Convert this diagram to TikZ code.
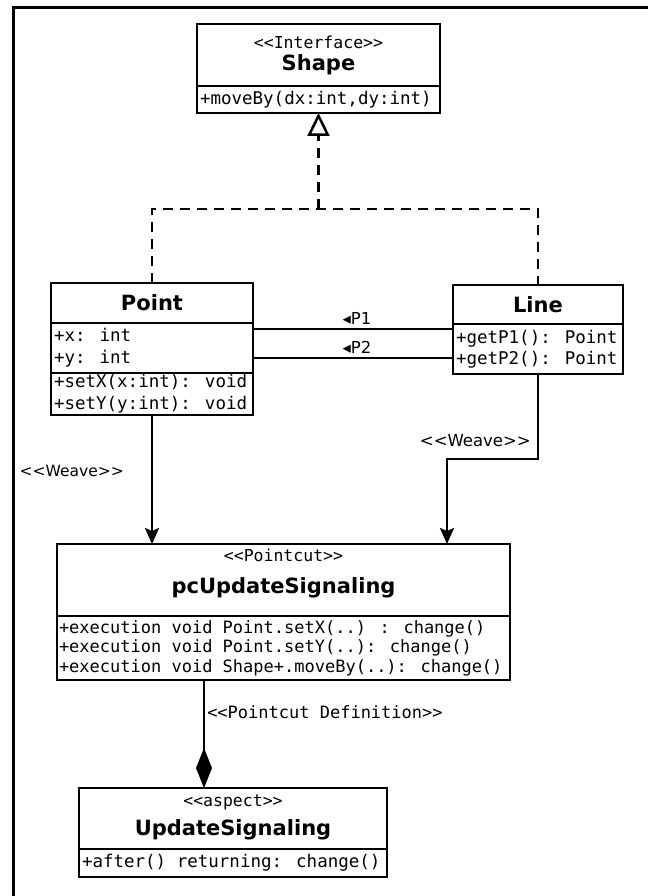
\documentclass[tikz,border=0pt]{standalone}
\usepackage{fontspec}
\newfontfamily\umlsans{DejaVu Sans}
\newfontfamily\umlmono{DejaVu Sans Mono}[WordSpace={1,0,0}]
\usetikzlibrary{arrows.meta}

\begin{document}
\begin{tikzpicture}[
	x=1pt, y=-1pt,
	frame/.style={line width=3pt},
	classbox/.style={rectangle,draw=black,line width=2.8pt,anchor=north west,inner sep=0pt,outer sep=0pt},
	namebox/.style={classbox,font=\umlsans\fontsize{21}{25}\selectfont\bfseries},
	members/.style={classbox,inner xsep=3pt,align=left,font=\umlmono\fontsize{17.5}{21}\selectfont,
		execute at begin node={\spaceskip=0pt\xspaceskip=0pt\relax}},
	cname/.style={font=\umlsans\fontsize{21}{25}\selectfont\bfseries,inner sep=0pt},
	stereo/.style={font=\umlmono\fontsize{16.5}{19}\selectfont,inner sep=0pt},
	lbl/.style={font=\umlsans\fontsize{16.5}{19}\selectfont,inner sep=0pt},
	lblmono/.style={font=\umlmono\fontsize{17}{20}\selectfont,inner sep=0pt},
	assoc/.style={line width=2.5pt},
	weave/.style={-{Stealth[length=16pt,width=14pt,inset=3pt]},line width=2.5pt},
	realize/.style={line width=2.5pt,dash pattern=on 10pt off 7pt}
	]
	\useasboundingbox (0,0) rectangle (648,896);
	\draw[frame] (13,896) -- (13,8) -- (648,8);

	\node[classbox, minimum width=243pt, minimum height=62pt] (shhead) at (197,24) {};
	\node[stereo] (shst) at ([yshift=-18pt]shhead.north) {<<Interface>>};
	\node[cname] (shname) at ([yshift=-41pt]shhead.north) {Shape};
	\node[members, text width=237pt, minimum height=27pt] (shops) at (shhead.south west) {+moveBy(dx:int,dy:int)};

	\node[namebox, minimum width=202pt, minimum height=40pt] (pthead) at (51,283) {Point};
	\node[members, text width=196pt, minimum height=50pt] (ptattrs) at (pthead.south west) {+x: int\\[1pt]+y: int};
	\node[members, text width=196pt, minimum height=42pt] (ptops) at (ptattrs.south west) {+setX(x:int): void\\[1pt]+setY(y:int): void};

	\node[namebox, minimum width=170pt, minimum height=39pt] (lnhead) at (453,285) {Line};
	\node[members, text width=164pt, minimum height=50pt] (lnops) at (lnhead.south west) {+getP1(): Point\\+getP2(): Point};

	\node[classbox, minimum width=453pt, minimum height=72pt] (pchead) at (57,544) {};
	\node[stereo] (pcst) at ([yshift=-11pt]pchead.north) {<<Pointcut>>};
	\node[cname] (pcname) at ([yshift=-44pt]pchead.north) {pcUpdateSignaling};
	\node[members, text width=449pt, inner xsep=2pt, minimum height=64pt, font=\umlmono\fontsize{17}{19.5}\selectfont] (pcops) at (pchead.south west) {+execution void Point.setX(..) : change()\\+execution void Point.setY(..): change()\\+execution void Shape+.moveBy(..): change()};

	\node[classbox, minimum width=308pt, minimum height=61pt] (ushead) at (79,788) {};
	\node[stereo] (usst) at ([yshift=-14pt]ushead.north) {<<aspect>>};
	\node[cname] (usname) at ([yshift=-42pt]ushead.north) {UpdateSignaling};
	\node[members, text width=302pt, minimum height=28pt] (usops) at (ushead.south west) {+after() returning: change()};

	\coordinate (join) at (318.5,209);
	\draw[realize] (pthead.north) |- (join) -| (lnhead.north);
	\draw[realize, -{Triangle[open,length=23pt,width=22pt]}] (join) -- (shops.south);

	\coordinate (p1) at ([yshift=-5pt]lnops.north west);
	\coordinate (p2) at ([yshift=-34pt]lnops.north west);
	\draw[assoc] (p1) -- (p1 -| ptattrs.east) node[lbl, pos=0.48, above=3pt] {◂P1};
	\draw[assoc] (p2) -- (p2 -| ptattrs.east) node[lbl, pos=0.48, above=3pt] {◂P2};

	\draw[weave] (ptops.south) -- (ptops.south |- pchead.north) node[lbl, font=\umlsans\fontsize{15.5}{18}\selectfont, pos=0.43, left=27pt] {<<Weave>>};
	\coordinate (bend) at (447,459);
	\draw[weave] (lnops.south) |- (bend) node[lbl, pos=0.39, left=6pt] {<<Weave>>} -- (bend |- pchead.north);

	\coordinate (cmp) at (204,700);
	\draw[assoc, {Diamond[length=40pt,width=16pt]}-] (ushead.north -| cmp) -- (pcops.south -| cmp) node[lblmono, pos=0.7, right=2pt] {<<Pointcut Definition>>};
\end{tikzpicture}
\end{document}
